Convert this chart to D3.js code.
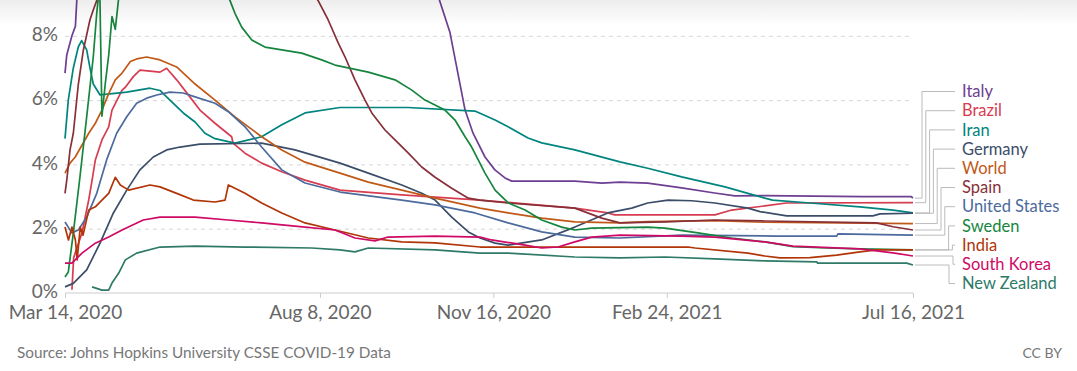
<!DOCTYPE html>
<html>
<head>
<meta charset="utf-8">
<script src="https://cdn.jsdelivr.net/npm/d3@7"></script>
<style>
  body { margin: 0; background: #fff; font-family: Lato, "Open Sans", sans-serif; }
  .chart svg { display: block; }
</style>
</head>
<body>
<div class="chart"></div>
<script>
// days since Mar 14, 2020 -> case fatality rate (%)
var italy = [[0,6.84],[1,7.4],[4,8.0],[6,8.3],[7,9.3],[10,10.0],[20,11.8],[35,13.2],[55,14.0],[80,14.4],[110,14.5],[150,14.3],[180,13.5],[200,11.5],[210,10.0],[216,9.1],[222,8.1],[230.7,5.69],[235.3,4.97],[242.2,4.23],[247.9,3.83],[253.7,3.58],[257.6,3.48],[294,3.48],[309.5,3.42],[320,3.45],[336,3.42],[355.6,3.27],[374.6,3.11],[386.3,3.02],[403.6,3.03],[460,3.0],[488,3.0],[489,2.95]];
var brazil = [[4,0.1],[5,1.1],[9.8,1.87],[13.7,2.9],[15.6,3.5],[17.5,4.14],[21.3,4.76],[25.2,5.17],[27.1,5.69],[30,6.0],[32.9,6.31],[34.8,6.4],[39.4,6.73],[43.2,6.93],[54.8,6.87],[58.6,6.99],[64.4,6.63],[72,6.1],[77.8,5.69],[86.5,5.28],[96.1,4.86],[96.9,4.66],[103.8,4.35],[113.4,4.04],[125,3.77],[138.4,3.51],[158.6,3.2],[194.2,3.05],[239.3,2.89],[294,2.64],[313,2.49],[317,2.43],[374.8,2.43],[384.4,2.58],[403.6,2.71],[416,2.8],[489,2.81]];
var iran = [[0,4.8],[1.9,6.0],[4.8,7.0],[7.7,7.66],[9.6,7.85],[12.5,7.56],[14.4,7.0],[16.3,6.5],[20.2,6.16],[35.6,6.25],[49,6.37],[54.8,6.3],[60.5,6.0],[68.2,5.6],[75,5.32],[80.7,4.97],[86.5,4.8],[98,4.66],[113.4,4.86],[125,5.23],[138.4,5.6],[158.6,5.77],[197.8,5.77],[236.4,5.66],[248,5.38],[255.5,5.17],[267,4.82],[274.9,4.67],[294,4.45],[320,4.08],[336,3.88],[355.6,3.61],[380.6,3.3],[393.8,3.1],[403.6,2.95],[408,2.89],[429.6,2.8],[458.4,2.68],[477.5,2.58],[489,2.49]];
var germany = [[0,0.19],[4.8,0.3],[12.5,0.72],[20.2,1.55],[27.9,2.49],[35.6,3.2],[43.2,3.83],[50.9,4.23],[58.6,4.45],[66.3,4.54],[77.8,4.63],[113.4,4.66],[132.6,4.45],[158.6,4.04],[174.9,3.73],[194.2,3.36],[205.7,3.1],[213.4,2.89],[223,2.36],[232.6,1.9],[239.3,1.71],[248,1.55],[255.5,1.49],[274.9,1.65],[294,2.05],[313,2.49],[326.8,2.64],[336,2.8],[347.7,2.89],[361.4,2.87],[374.8,2.8],[393.8,2.64],[400.8,2.53],[416.2,2.4],[465.9,2.4],[470,2.46],[489,2.48]];
var world = [[0,3.73],[2.9,4.04],[5.9,4.23],[13.7,4.97],[17.5,5.28],[21.3,5.69],[25.2,6.2],[29,6.63],[32.9,6.84],[37.7,7.2],[41.3,7.28],[47.1,7.34],[54.8,7.25],[64.4,7.03],[75,6.5],[86.5,6.0],[98,5.48],[113.4,4.86],[125,4.45],[138.4,4.07],[158.6,3.73],[174.9,3.45],[194.2,3.2],[213.4,2.95],[239.3,2.64],[255.5,2.49],[274.9,2.33],[294,2.21],[320,2.18],[336,2.22],[374.8,2.25],[403.6,2.2],[489,2.16]];
var spain = [[0,3.1],[1,3.5],[2.9,4.45],[4.8,4.97],[7.7,6.5],[10.6,7.56],[14.4,8.5],[16.3,8.8],[18.3,9.1],[25,10.0],[40,10.8],[60,11.8],[80,12.0],[100,11.6],[120,11.0],[135,10.0],[145.9,9.1],[151.7,8.5],[157.6,7.77],[161.5,7.34],[167.2,6.63],[173,6.0],[176.9,5.6],[184.5,5.07],[190.3,4.76],[198,4.35],[205.7,3.92],[213.4,3.6],[223,3.26],[232.6,2.95],[239.3,2.89],[255.5,2.8],[294,2.64],[309.5,2.33],[320,2.18],[346,2.21],[374.8,2.27],[403.6,2.24],[468,2.18],[477.5,2.06],[489,1.96]];
var unitedStates = [[0,2.21],[1.9,2.05],[3.9,1.87],[7.7,1.96],[12.5,2.36],[18.3,3.1],[24,4.14],[29.8,4.97],[35.6,5.48],[41.3,5.9],[47.1,6.06],[52.9,6.16],[60.5,6.25],[68.2,6.22],[75,6.1],[86.5,5.9],[94.2,5.64],[103.8,5.17],[113.4,4.54],[125,3.83],[138.4,3.42],[158.6,3.14],[194.2,2.89],[213.4,2.74],[236.4,2.49],[255.5,2.18],[274.9,1.9],[294,1.74],[320,1.71],[355.6,1.8],[410.4,1.77],[445,1.77],[445.7,1.84],[489,1.8]];
var sweden = [[0,0.5],[1.9,0.65],[4.8,1.87],[8.6,3.6],[12.5,5.48],[16.3,7.34],[18.3,8.7],[20,9.6],[21.3,5.5],[23.2,6.5],[25.2,7.4],[27.1,8.6],[29,8.2],[31,9.2],[35,10.0],[50,11.5],[65,12.0],[80,11.0],[90,9.8],[95.1,9.1],[98,8.7],[101.9,8.27],[107.7,7.87],[115.3,7.65],[125,7.56],[136.5,7.46],[148,7.25],[155.7,7.09],[174.9,6.87],[190.3,6.63],[200,6.31],[207.6,6.0],[219.1,5.69],[224.9,5.38],[230.7,4.86],[234.5,4.54],[238.3,4.14],[242.2,3.73],[248,3.2],[255.6,2.8],[265.3,2.58],[274.9,2.27],[286.4,2.05],[294,1.96],[303.7,2.02],[336,2.05],[346,2.02],[365,1.87],[384.4,1.71],[403.6,1.59],[419.8,1.44],[439.2,1.4],[458.4,1.37],[489,1.34]];
var india = [[0,2.05],[2,1.65],[4,2.05],[6,1.65],[7,1.03],[8.8,2.05],[10.4,1.8],[13.7,2.58],[17.5,2.68],[21.3,2.89],[25.2,3.1],[29,3.6],[31.9,3.36],[36.7,3.2],[49,3.36],[54.8,3.3],[64.4,3.1],[74,2.89],[86.5,2.83],[92.3,2.89],[94.2,3.36],[103.8,3.1],[113.4,2.8],[125,2.49],[138.4,2.18],[155.7,1.96],[174.9,1.71],[194.2,1.59],[213.4,1.56],[239.3,1.43],[320,1.43],[359.2,1.43],[363.3,1.4],[393.8,1.24],[403.6,1.15],[412.3,1.09],[429.6,1.1],[445,1.18],[458.4,1.28],[468,1.34],[489,1.34]];
var southKorea = [[0,0.93],[4,0.93],[9.8,1.24],[17.5,1.55],[25.2,1.74],[32.9,1.96],[45.1,2.27],[54.8,2.36],[75,2.36],[94.2,2.27],[113.4,2.18],[132.6,2.08],[155.7,1.96],[167.2,1.71],[178.8,1.62],[186.3,1.74],[213.4,1.77],[239.3,1.74],[246,1.65],[265.3,1.49],[274.9,1.4],[284.3,1.43],[294,1.59],[303.7,1.74],[320,1.8],[355.6,1.77],[374.8,1.74],[403.6,1.59],[419.8,1.46],[458.4,1.37],[477.5,1.25],[489,1.15]];
var newZealand = [[15.6,0.19],[21.3,0.09],[25.2,0.09],[27.1,0.31],[31,0.62],[34.8,1.03],[41.3,1.24],[54.8,1.43],[75,1.46],[103.8,1.43],[142.3,1.4],[158.6,1.34],[167.2,1.28],[174.9,1.4],[213.4,1.34],[239.3,1.24],[255.5,1.24],[294,1.12],[320,1.09],[346,1.12],[374.8,1.06],[403.6,1.0],[433.4,0.97],[434,0.93],[485.3,0.93],[489,0.87]];

var seriesNames = ["Italy", "Brazil", "Iran", "Germany", "World", "Spain", "United States", "Sweden", "India", "South Korea", "New Zealand"];
var seriesValues = [italy, brazil, iran, germany, world, spain, unitedStates, sweden, india, southKorea, newZealand];

var xTickDates = ["2020-03-14", "2020-08-08", "2020-11-16", "2021-02-24", "2021-07-16"];
var yTicks = [0, 2, 4, 6, 8];
var sourceText = "Source: Johns Hopkins University CSSE COVID-19 Data";
var licenseText = "CC BY";

// styling
var colors = {
  "Italy": "#6D3E91",
  "Brazil": "#D73C50",
  "Iran": "#00847E",
  "Germany": "#3B4D68",
  "World": "#C05917",
  "Spain": "#883039",
  "United States": "#4C6A9C",
  "Sweden": "#16853E",
  "India": "#B13507",
  "South Korea": "#CF0A66",
  "New Zealand": "#2E7A67"
};

var svgWidth = 1077;
var svgHeight = 371;
var margin = { left: 65, right: 164, bottom: 78 };
var plotRight = svgWidth - margin.right;
var plotBottom = svgHeight - margin.bottom;
var pxPerPercent = 32.15;

var parseDate = d3.timeParse("%Y-%m-%d");
var startDate = parseDate(xTickDates[0]);
var dayToDate = function(d) { return new Date(startDate.getTime() + d * 86400000); };

var svg = d3.select(".chart")
  .append("svg")
  .attr("width", svgWidth)
  .attr("height", svgHeight);

var xScale = d3.scaleTime()
  .domain([startDate, parseDate(xTickDates[xTickDates.length - 1])])
  .range([margin.left, plotRight]);

var yScale = d3.scaleLinear()
  .domain([0, 10])
  .range([plotBottom, plotBottom - 10 * pxPerPercent]);

// gridlines + y labels
var yAxis = d3.axisLeft(yScale)
  .tickValues(yTicks)
  .tickSize(-(plotRight - margin.left))
  .tickPadding(7)
  .tickFormat(d => d + "%");

var yG = svg.append("g")
  .attr("transform", `translate(${margin.left},0)`)
  .call(yAxis);
yG.select(".domain").remove();
yG.selectAll(".tick line")
  .attr("stroke", "#d6d6d6")
  .attr("stroke-dasharray", "4,4")
  .filter(d => d === 0).remove();
yG.selectAll(".tick text")
  .attr("fill", "#666")
  .attr("font-family", "Lato, sans-serif")
  .attr("font-size", 19)
  .attr("dy", "0.25em");

// x axis
var xAxis = d3.axisBottom(xScale)
  .tickValues(xTickDates.map(parseDate))
  .tickSize(5)
  .tickPadding(8)
  .tickFormat(d3.timeFormat("%b %-d, %Y"));

var xG = svg.append("g")
  .attr("transform", `translate(0,${plotBottom})`)
  .call(xAxis);
xG.select(".domain").attr("stroke", "#ccc").attr("d", `M${margin.left},0H${plotRight}`);
xG.selectAll(".tick line").attr("stroke", "#ccc");
xG.selectAll(".tick text")
  .attr("fill", "#666")
  .attr("font-family", "Lato, sans-serif")
  .attr("font-size", 19);

// lines
var line = d3.line()
  .x(d => xScale(dayToDate(d[0])))
  .y(d => yScale(d[1]));

var lineGroup = svg.append("g");
seriesNames.forEach(function(name, i) {
  lineGroup.append("path")
    .datum(seriesValues[i])
    .attr("fill", "none")
    .attr("stroke", colors[name])
    .attr("stroke-width", 1.7)
    .attr("stroke-linejoin", "round")
    .attr("d", line);
});

// legend labels with connectors
var labelGap = 19.2;
var ends = seriesNames.map(function(name, i) {
  var vals = seriesValues[i];
  var last = vals[vals.length - 1];
  return { name: name, endX: xScale(dayToDate(last[0])), endY: yScale(last[1]) };
});
var lastCenter = plotBottom - 9.5;
ends.forEach(function(e, i) {
  e.labelY = lastCenter - (ends.length - 1 - i) * labelGap;
});
var downIdx = 0;
ends.forEach(function(e, i) {
  if (e.labelY > e.endY + 2) {
    e.elbowX = 953 - 4 * downIdx;
    downIdx++;
  } else {
    e.elbowX = 922 + 3.8 * i;
  }
});

var legend = svg.append("g");
ends.forEach(function(e) {
  legend.append("path")
    .attr("fill", "none")
    .attr("stroke", "#bbb")
    .attr("stroke-width", 1)
    .attr("d", `M${e.endX + 2},${e.endY}H${e.elbowX}V${e.labelY}H955`);
  legend.append("text")
    .attr("x", 962)
    .attr("y", e.labelY)
    .attr("dy", "0.35em")
    .attr("fill", colors[e.name])
    .attr("font-family", "Lato, sans-serif")
    .attr("font-size", 16.5)
    .text(e.name);
});

// footer
svg.append("text")
  .attr("x", 17)
  .attr("y", 358)
  .attr("fill", "#777")
  .attr("font-family", "Lato, sans-serif")
  .attr("font-size", 15.3)
  .text(sourceText);

svg.append("text")
  .attr("x", 1062)
  .attr("y", 358)
  .attr("text-anchor", "end")
  .attr("fill", "#777")
  .attr("font-family", "Lato, sans-serif")
  .attr("font-size", 14)
  .text(licenseText);

// soft shadow along the top edge
var defs = svg.append("defs");
var grad = defs.append("linearGradient")
  .attr("id", "topShade")
  .attr("x1", 0).attr("y1", 0).attr("x2", 0).attr("y2", 1);
grad.append("stop").attr("offset", "0%").attr("stop-color", "#000").attr("stop-opacity", 0.07);
grad.append("stop").attr("offset", "100%").attr("stop-color", "#000").attr("stop-opacity", 0);
svg.append("rect")
  .attr("x", 0).attr("y", 0)
  .attr("width", svgWidth).attr("height", 26)
  .attr("fill", "url(#topShade)");
</script>
</body>
</html>
